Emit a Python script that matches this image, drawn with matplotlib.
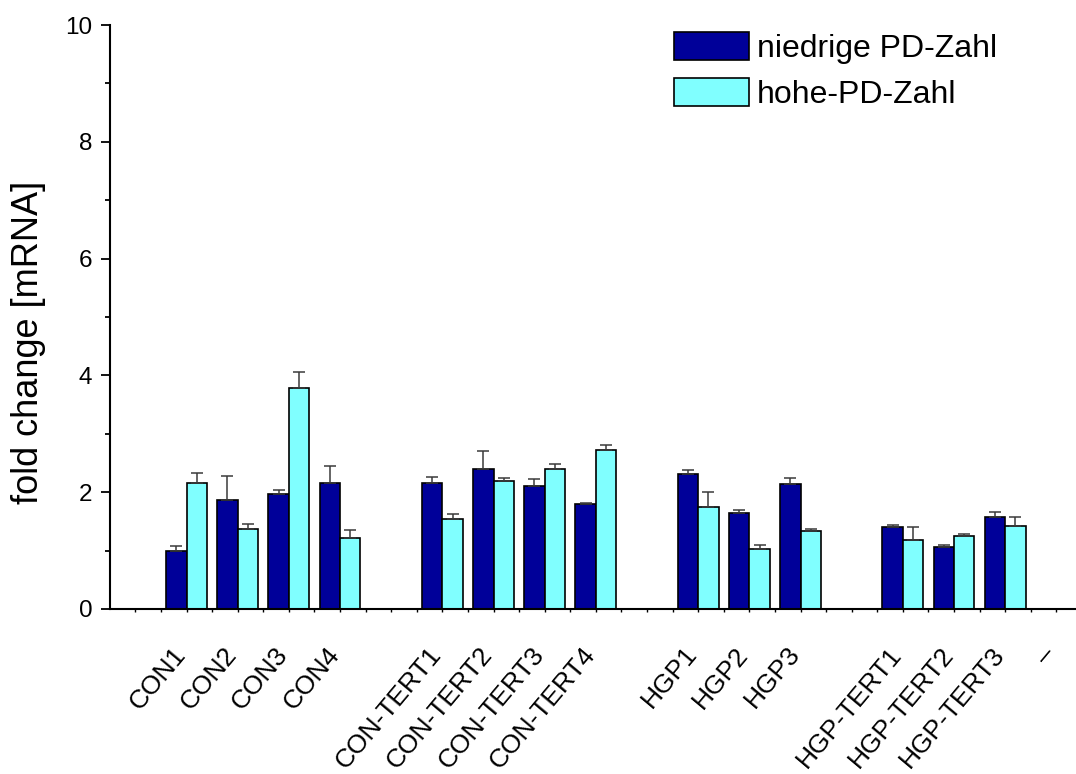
import numpy as np
import matplotlib
matplotlib.use("Agg")
import matplotlib.pyplot as plt
import matplotlib.transforms as mtransforms

plt.rcParams['font.family'] = ['Liberation Sans', 'DejaVu Sans']

# Sample slots along the x axis (blank entries separate the groups)
categories = ["", "CON1", "CON2", "CON3", "CON4",
              "", "CON-TERT1", "CON-TERT2", "CON-TERT3", "CON-TERT4",
              "", "HGP1", "HGP2", "HGP3",
              "", "HGP-TERT1", "HGP-TERT2", "HGP-TERT3", "–"]

nan = np.nan
low_pd = [nan, 1.00, 1.87, 1.97, 2.16,
          nan, 2.16, 2.40, 2.11, 1.79,
          nan, 2.31, 1.65, 2.14,
          nan, 1.41, 1.06, 1.575, nan]
low_pd_err = [nan, 0.08, 0.40, 0.06, 0.29,
              nan, 0.10, 0.31, 0.12, 0.03,
              nan, 0.07, 0.05, 0.10,
              nan, 0.03, 0.03, 0.08, nan]

high_pd = [nan, 2.15, 1.375, 3.78, 1.22,
           nan, 1.54, 2.19, 2.40, 2.72,
           nan, 1.75, 1.03, 1.34,
           nan, 1.18, 1.25, 1.42, nan]
high_pd_err = [nan, 0.18, 0.085, 0.27, 0.14,
               nan, 0.09, 0.06, 0.08, 0.08,
               nan, 0.25, 0.07, 0.03,
               nan, 0.22, 0.04, 0.155, nan]

series_labels = ["niedrige PD-Zahl", "hohe-PD-Zahl"]
y_label = "fold change [mRNA]"

fig = plt.figure(figsize=(10.76, 7.74), dpi=100)
ax = fig.add_axes([0.1020, 0.2132, 0.9035, 0.7545])

x = np.arange(len(categories))
w = 0.4
low = np.array(low_pd)
high = np.array(high_pd)
low_e = np.array(low_pd_err)
high_e = np.array(high_pd_err)

err_kw = dict(ecolor="#3a3a3a", elinewidth=1.1, capsize=4, capthick=1.1)
ax.bar(x - w / 2, low, w, color="#000099", edgecolor="black", linewidth=1.2,
       yerr=[np.zeros_like(low_e), low_e], error_kw=err_kw,
       label=series_labels[0], zorder=2)
ax.bar(x + w / 2, high, w, color="#80FFFF", edgecolor="black", linewidth=1.2,
       yerr=[np.zeros_like(high_e), high_e], error_kw=err_kw,
       label=series_labels[1], zorder=2)

ax.set_xlim(-0.5, len(categories) - 0.5)
ax.set_ylim(0, 10)

# y axis
ax.set_yticks([0, 2, 4, 6, 8, 10])
ax.set_yticks(np.arange(1, 10, 2), minor=True)
ax.tick_params(axis="y", which="major", direction="out", length=6.5,
               width=1.3, labelsize=17.5, pad=6)
ax.tick_params(axis="y", which="minor", direction="out", length=3.5, width=1.3)

# x axis
ax.set_xticks(x)
ax.set_xticks(x[:-1] + 0.5, minor=True)
ax.set_xticklabels(categories, rotation=50, ha="right")
ax.tick_params(axis="x", which="both", direction="out", length=2, width=1.0,
               labelsize=19, pad=22)
shift = mtransforms.ScaledTranslation(4 / 100, 0, fig.dpi_scale_trans)
for lab in ax.get_xticklabels():
    lab.set_transform(lab.get_transform() + shift)

for side in ("top", "right"):
    ax.spines[side].set_visible(False)
for side in ("left", "bottom"):
    ax.spines[side].set_linewidth(1.5)

ax.set_ylabel(y_label, fontsize=26)
ax.yaxis.set_label_coords(-0.066, 0.457)

fig.legend(loc="upper left", bbox_to_anchor=(674 / 1076, 1 - 32 / 774),
           frameon=False, fontsize=23, handlelength=2.35, handleheight=0.97,
           handletextpad=0.25, labelspacing=0.43, borderpad=0, borderaxespad=0)

fig.savefig("out.png", dpi=100)
